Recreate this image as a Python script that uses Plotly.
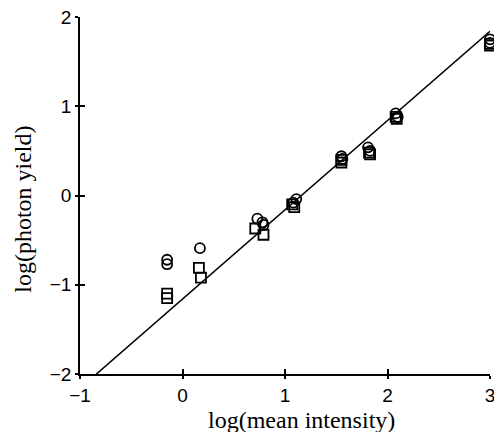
import plotly.graph_objects as go

# Data
circle_x = [-0.15, -0.15, 0.17, 0.73, 0.78, 0.79, 1.08, 1.11, 1.55, 1.56, 1.81, 1.83, 2.08, 2.10, 3.0, 3.0]
circle_y = [-0.72, -0.77, -0.59, -0.26, -0.30, -0.33, -0.08, -0.04, 0.44, 0.41, 0.54, 0.50, 0.92, 0.88, 1.75, 1.71]
square_x = [-0.15, -0.15, 0.16, 0.18, 0.71, 0.79, 1.07, 1.09, 1.55, 1.55, 1.82, 1.83, 2.08, 2.09, 3.0, 3.0]
square_y = [-1.10, -1.15, -0.81, -0.92, -0.37, -0.44, -0.10, -0.13, 0.40, 0.37, 0.48, 0.46, 0.88, 0.86, 1.70, 1.68]
fit_x = [-0.84, 3.0]
fit_y = [-2.0, 1.84]

x_ticks = [-1, 0, 1, 2, 3]
y_ticks = [-2, -1, 0, 1, 2]
x_title = "log(mean intensity)"
y_title = "log(photon yield)"

fig = go.Figure()
fig.add_trace(go.Scatter(x=fit_x, y=fit_y, mode="lines",
                         line=dict(color="black", width=1.6), cliponaxis=False,
                         showlegend=False, hoverinfo="skip"))
fig.add_trace(go.Scatter(x=circle_x, y=circle_y, mode="markers", cliponaxis=False,
                         marker=dict(symbol="circle-open", size=10, color="black",
                                     line=dict(width=1.8, color="black")),
                         showlegend=False))
fig.add_trace(go.Scatter(x=square_x, y=square_y, mode="markers", cliponaxis=False,
                         marker=dict(symbol="square-open", size=10, color="black",
                                     line=dict(width=1.8, color="black")),
                         showlegend=False))
# invisible trace to activate overlay axes
fig.add_trace(go.Scatter(x=[None], y=[None], xaxis="x2", yaxis="y2", showlegend=False))

tickfont = dict(family="Liberation Sans, Arial, sans-serif", size=19, color="black")
titlefont = dict(family="Liberation Serif, Times New Roman, serif", size=24, color="black")

common = dict(showgrid=False, zeroline=False, showline=True, linecolor="black", linewidth=1.6,
              tickcolor="black", tickwidth=1.5, automargin=False)

fig.update_layout(
    width=494, height=432,
    margin=dict(l=80, r=4, t=17, b=58),
    paper_bgcolor="white", plot_bgcolor="white",
    xaxis=dict(range=[-1, 3], tickvals=x_ticks, ticktext=[str(v).replace("-", "\u2212") for v in x_ticks],
               ticks="outside", ticklen=3, tickfont=tickfont, ticklabeloverflow="allow", **common),
    yaxis=dict(range=[-2, 2], tickvals=y_ticks, ticktext=[str(v).replace("-", "\u2212") for v in y_ticks],
               ticks="outside", ticklen=3, tickfont=tickfont, ticklabeloverflow="allow", **common),
    xaxis2=dict(range=[-1, 3], tickvals=x_ticks, ticks="inside", ticklen=5, showticklabels=False,
                overlaying="x", side="bottom", **common),
    yaxis2=dict(range=[-2, 2], tickvals=y_ticks, ticks="inside", ticklen=5, showticklabels=False,
                overlaying="y", side="left", **common),
    annotations=[
        dict(text=x_title, xref="paper", yref="paper", x=0.54, y=0, yshift=-46,
             xanchor="center", yanchor="middle", showarrow=False, font=titlefont),
        dict(text=y_title, xref="paper", yref="paper", x=0, y=0.46, xshift=-57,
             xanchor="center", yanchor="middle", textangle=-90, showarrow=False, font=titlefont),
    ],
)

fig.write_html("out.html", config={"displayModeBar": False},
               post_script="document.body.style.margin='0';document.body.style.padding='0';")
